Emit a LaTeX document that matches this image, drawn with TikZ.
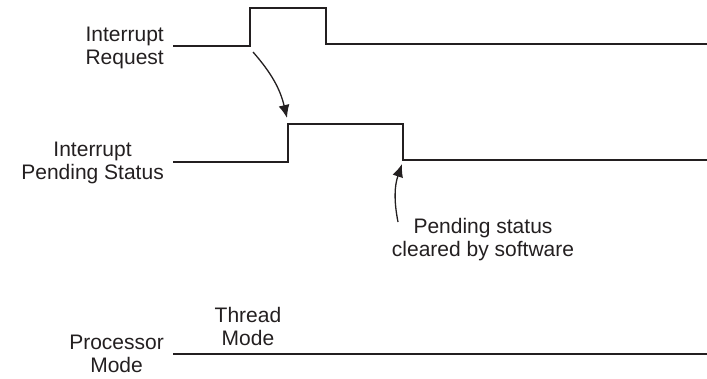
\documentclass[tikz,border=0pt]{standalone}
\usepackage{fontspec}
\setmainfont{Liberation Sans}
\usetikzlibrary{arrows.meta}
\definecolor{ink}{HTML}{231F20}
\begin{document}
\begin{tikzpicture}[x = 1pt, y = -1pt,
  signal/.style = {draw=ink, line width=1.4pt},
  caption/.style = {inner sep=0pt, align=center, text=ink,
    font=\fontsize{21}{23}\selectfont},
  cause/.style = {draw=ink, line width=1.3pt,
    -{Latex[length=13pt, width=11pt]}}
]
  \useasboundingbox (0, 0) rectangle (707, 378);

  \node[caption, anchor=east] (req) at (164, 48) {Interrupt\\Request};
  \node[caption, anchor=east] (pend) at (164, 163) {Interrupt\\Pending Status};
  \node[caption, anchor=east] (proc) at (164, 354) {Processor\\Mode};
  \node[caption] (thread) at (248, 326) {Thread\\Mode};
  \node[caption] (clear) at (483, 240) {Pending status\\cleared by software};

  \draw[signal] (173, 46) -- (250, 46) -- (250, 8) -- (326, 8)
    -- (326, 44) -- (707, 44);
  \draw[signal] (173, 162) -- (288, 162) -- (288, 124) -- (403, 124)
    -- (403, 160) -- (707, 160);
  \draw[signal] (173, 354) -- (707, 354);

  \coordinate (reqtail) at (253, 52);
  \coordinate (pendtip) at (287, 118);
  \coordinate (cleartail) at (398, 222);
  \coordinate (cleartip) at (402, 164);

  \draw[cause] (reqtail) to[bend left=14] (pendtip);
  \draw[cause] (cleartail) to[bend left=15] (cleartip);
\end{tikzpicture}
\end{document}
